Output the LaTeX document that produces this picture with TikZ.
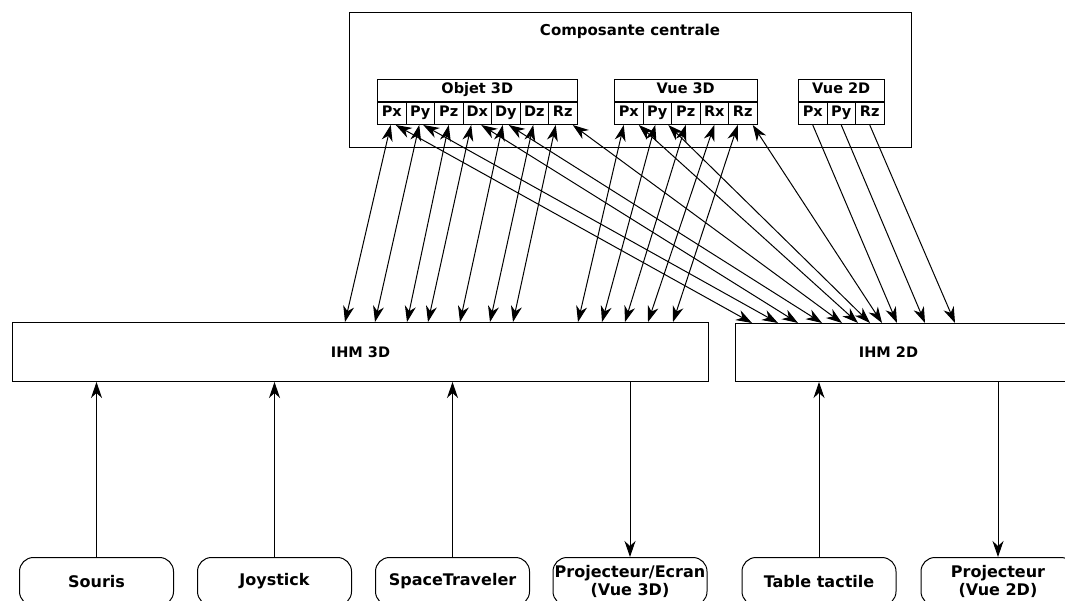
\documentclass[tikz,border=0pt]{standalone}
\usepackage{fontspec}
\setmainfont{DejaVu Sans}
\usepackage{tikz}
\usetikzlibrary{arrows.meta,positioning,calc}
\tikzset{
  boite/.style={draw,line width=1pt,inner sep=0pt,font=\bfseries\fontsize{14.5}{16}\selectfont},
  entete/.style={boite,minimum height=22pt,anchor=north west,text height=0.74em,text depth=0.22em,
    font=\bfseries\fontsize{14.5}{16}\selectfont},
  cellule/.style={entete,minimum width=28.5pt},
  periph/.style={boite,rounded corners=14pt,minimum width=154pt,minimum height=48pt,anchor=north,
    align=center,font=\bfseries\fontsize{16}{18}\selectfont},
  pointe/.tip={Stealth[length=16pt,width=11pt,inset=5pt]},
  lien/.style={line width=1pt,-pointe},
  lien2/.style={line width=1pt,pointe-pointe},
}

\begin{document}
\begin{tikzpicture}[x=1pt,y=1pt]
\useasboundingbox (0,0) rectangle (1065,-601);

% composante centrale
\node[boite,minimum width=562pt,minimum height=135pt,anchor=north west] (centre) at (349,-12) {};
\node[font=\bfseries\fontsize{15}{17}\selectfont] (titre) at (630,-31) {Composante centrale};

\node[entete,minimum width=199.5pt] (obj) at (377,-79) {Objet 3D};
\foreach \c [count=\i] in {Px,Py,Pz,Dx,Dy,Dz,Rz}
  \node[cellule] (obj-\i) at ($(obj.south west)+({(\i-1)*28.5},0)$) {\c};
\node[entete,minimum width=142.5pt] (v3) at (614,-79) {Vue 3D};
\foreach \c [count=\i] in {Px,Py,Pz,Rx,Rz}
  \node[cellule] (v3-\i) at ($(v3.south west)+({(\i-1)*28.5},0)$) {\c};
\node[entete,minimum width=85.5pt] (v2) at (798,-79) {Vue 2D};
\foreach \c [count=\i] in {Px,Py,Rz}
  \node[cellule] (v2-\i) at ($(v2.south west)+({(\i-1)*28.5},0)$) {\c};

% IHM
\node[boite,minimum width=696pt,minimum height=59pt,anchor=north west] (ihm3) at (12,-322) {IHM 3D};
\node[boite,minimum width=350pt,minimum height=58pt,anchor=north west,
  label={[font=\bfseries\fontsize{14.5}{16}\selectfont,xshift=-22pt]center:IHM 2D}] (ihm2) at (735,-323) {};

% peripheriques
\node[periph] (souris) at (96.5,-557) {Souris};
\node[periph] (joy) at (274.5,-557) {Joystick};
\node[periph] (space) at (452.5,-557) {SpaceTraveler};
\node[periph] (proj3) at (630,-557) {Projecteur/Ecran\\(Vue 3D)};
\node[periph] (table) at (819,-557) {Table tactile};
\node[periph] (proj2) at (998,-557) {Projecteur\\(Vue 2D)};

\draw[lien] (souris) -- (souris |- ihm3.south);
\draw[lien] (joy) -- (joy |- ihm3.south);
\draw[lien] (space) -- (space |- ihm3.south);
\draw[lien] (proj3 |- ihm3.south) -- (proj3);
\draw[lien] (table) -- (table |- ihm2.south);
\draw[lien] (proj2 |- ihm2.south) -- (proj2);

% vers IHM 3D
\foreach \i/\d/\e in {1/-1/333,2/-1/363,3/0/395,4/-6/416,5/-3/448,6/-1/478,7/-7/501}
  \draw[lien2] ([xshift=\d pt]obj-\i.south) -- ([xshift=\e pt]ihm3.north west);
\foreach \i/\d/\e in {1/-5/566,2/-2/590,3/0/613,4/0/636,5/-5/661}
  \draw[lien2] ([xshift=\d pt]v3-\i.south) -- ([xshift=\e pt]ihm3.north west);

% vers IHM 2D
\foreach \i/\d/\e in {1/4/17,2/3/43,4/4/63,5/3/87,7/10/107}
  \draw[lien2] ([xshift=\d pt]obj-\i.south) -- ([xshift=\e pt]ihm2.north west);
\foreach \i/\d/\e in {1/10/123,2/11/135,5/10/147}
  \draw[lien2] ([xshift=\d pt]v3-\i.south) -- ([xshift=\e pt]ihm2.north west);
\foreach \i/\e in {1/162,2/190,3/220}
  \draw[lien] (v2-\i.south) -- ([xshift=\e pt]ihm2.north west);
\end{tikzpicture}
\end{document}
